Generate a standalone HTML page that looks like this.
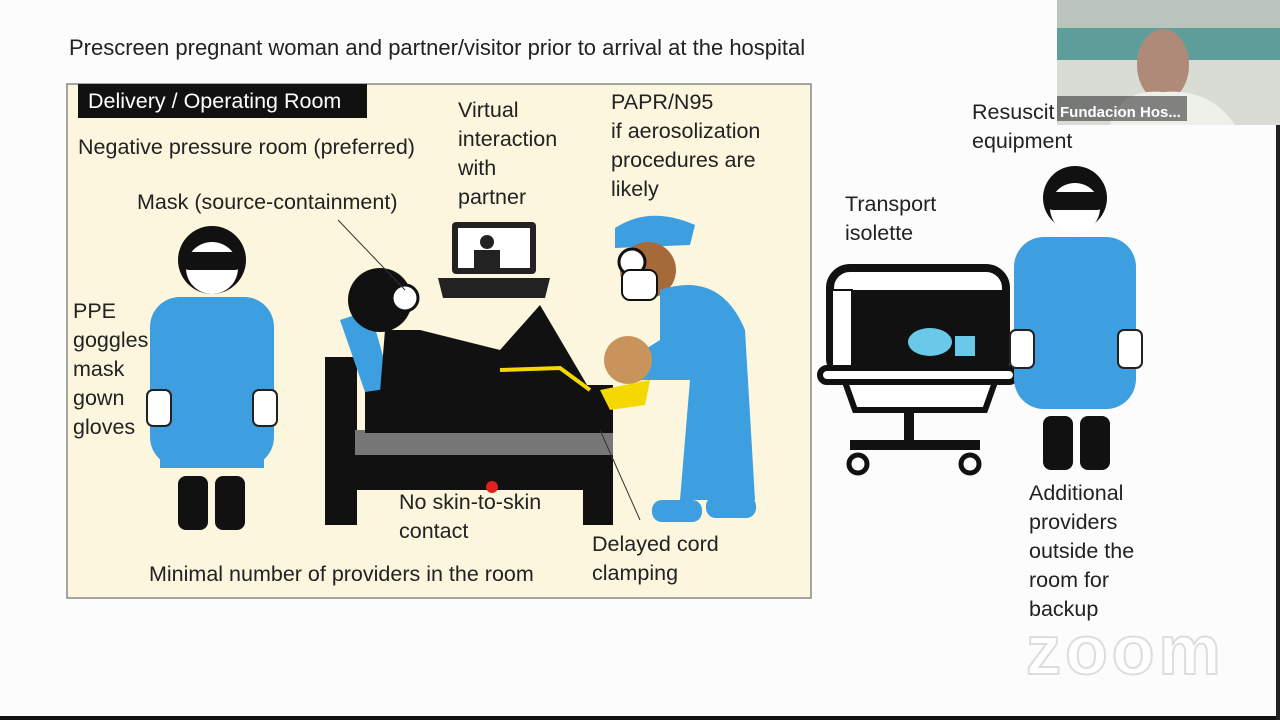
<!DOCTYPE html>
<html><head><meta charset="utf-8"><style>
body{margin:0;width:1280px;height:720px;overflow:hidden;background:#fcfcfc;font-family:"Liberation Sans",sans-serif;position:relative}
.t{position:absolute;font-size:21.5px;color:#222;line-height:29px;white-space:nowrap}
</style></head><body>
<svg width="1280" height="720" style="position:absolute;left:0;top:0">
<rect x="0" y="0" width="1280" height="720" fill="#fcfcfc"/>
<rect x="0" y="716" width="1280" height="4" fill="#111"/>
<rect x="1276" y="120" width="4" height="600" fill="#222"/>
<rect x="67" y="84" width="744" height="514" fill="#fbf6dd" stroke="#888" stroke-width="1.5"/>
<rect x="78" y="84" width="289" height="34" fill="#111"/>
<circle cx="212" cy="260" r="34" fill="#111"/>
<circle cx="212" cy="268" r="26" fill="#fff"/>
<rect x="183" y="252" width="58" height="18" rx="6" fill="#111"/>
<rect x="150" y="297" width="124" height="170" rx="30" fill="#3d9ee0"/>
<rect x="160" y="380" width="104" height="88" fill="#3d9ee0"/>
<rect x="147" y="390" width="24" height="36" rx="6" fill="#fff" stroke="#222" stroke-width="2"/>
<rect x="253" y="390" width="24" height="36" rx="6" fill="#fff" stroke="#222" stroke-width="2"/>
<rect x="178" y="476" width="30" height="54" rx="8" fill="#111"/>
<rect x="215" y="476" width="30" height="54" rx="8" fill="#111"/>
<rect x="325" y="357" width="32" height="168" fill="#111"/>
<rect x="355" y="430" width="258" height="26" fill="#777"/>
<rect x="355" y="455" width="258" height="35" fill="#111"/>
<rect x="583" y="455" width="30" height="70" fill="#111"/>
<rect x="365" y="385" width="248" height="48" fill="#111"/>
<path d="M340 320 L370 310 L392 388 L365 392 Z" fill="#3d9ee0"/>
<circle cx="380" cy="300" r="32" fill="#111"/>
<circle cx="405" cy="298" r="13" fill="#fff" stroke="#111" stroke-width="3"/>
<path d="M385 330 L420 330 L500 350 L540 305 L590 390 L380 392 Z" fill="#111"/>
<path d="M500 370 L560 368 L590 390" stroke="#f5d800" stroke-width="4" fill="none"/>
<line x1="338" y1="220" x2="405" y2="290" stroke="#333" stroke-width="1"/>
<rect x="452" y="222" width="84" height="52" rx="4" fill="#222"/>
<rect x="458" y="228" width="72" height="40" fill="#fff"/>
<circle cx="487" cy="242" r="7" fill="#222"/><rect x="474" y="250" width="26" height="18" fill="#222"/>
<path d="M438 278 L550 278 L545 298 L443 298 Z" fill="#222"/>
<path d="M615 228 Q650 205 695 225 L690 245 L615 248 Z" fill="#3d9ee0"/>
<circle cx="648" cy="270" r="28" fill="#a56a3a"/>
<circle cx="632" cy="262" r="13" fill="#fff" stroke="#111" stroke-width="3"/>
<rect x="622" y="270" width="35" height="30" rx="8" fill="#fff" stroke="#111" stroke-width="2"/>
<path d="M660 290 Q720 270 745 330 L755 500 L680 500 L690 380 L640 380 L620 365 L660 340 Z" fill="#3d9ee0"/>
<rect x="652" y="500" width="50" height="22" rx="10" fill="#3d9ee0"/>
<rect x="706" y="496" width="50" height="22" rx="10" fill="#3d9ee0"/>
<circle cx="628" cy="360" r="24" fill="#c9935c"/>
<path d="M600 390 L650 380 L645 405 L610 410 Z" fill="#f5d800"/>
<line x1="600" y1="430" x2="640" y2="520" stroke="#333" stroke-width="1"/>
<circle cx="492" cy="487" r="6" fill="#e02020"/>
<rect x="830" y="268" width="176" height="110" rx="20" fill="#fff" stroke="#111" stroke-width="8"/>
<rect x="852" y="290" width="154" height="80" fill="#111"/>
<rect x="832" y="290" width="20" height="80" fill="#fff" stroke="#111" stroke-width="2"/>
<ellipse cx="930" cy="342" rx="22" ry="14" fill="#6ac9e8"/>
<rect x="955" y="336" width="20" height="20" fill="#6ac9e8"/>
<rect x="820" y="368" width="196" height="14" rx="7" fill="#fff" stroke="#111" stroke-width="6"/>
<path d="M845 382 L995 382 L985 410 L855 410 Z" fill="#fff" stroke="#111" stroke-width="6"/>
<rect x="904" y="410" width="10" height="36" fill="#111"/>
<rect x="850" y="440" width="130" height="10" fill="#111"/>
<circle cx="858" cy="464" r="9" fill="#fff" stroke="#111" stroke-width="5"/>
<circle cx="970" cy="464" r="9" fill="#fff" stroke="#111" stroke-width="5"/>
<circle cx="1075" cy="198" r="32" fill="#111"/>
<circle cx="1075" cy="208" r="25" fill="#fff"/>
<rect x="1047" y="192" width="56" height="18" rx="6" fill="#111"/>
<rect x="1014" y="237" width="122" height="172" rx="30" fill="#3d9ee0"/>
<rect x="1010" y="330" width="24" height="38" rx="6" fill="#fff" stroke="#222" stroke-width="2"/>
<rect x="1118" y="330" width="24" height="38" rx="6" fill="#fff" stroke="#222" stroke-width="2"/>
<rect x="1043" y="416" width="30" height="54" rx="8" fill="#111"/>
<rect x="1080" y="416" width="30" height="54" rx="8" fill="#111"/>
<rect x="1057" y="0" width="223" height="125" fill="#b9c4bc"/>
<rect x="1057" y="28" width="223" height="32" fill="#5e9e9a"/>
<rect x="1057" y="60" width="223" height="65" fill="#d8dcd4"/>
<ellipse cx="1163" cy="65" rx="26" ry="36" fill="#b08a78"/>
<path d="M1110 125 Q1120 88 1163 92 Q1210 88 1235 125 Z" fill="#eef0ea"/>
<rect x="1057" y="96" width="130" height="25" fill="rgba(40,40,40,0.55)"/>
</svg>
<div class="t" style="left:69px;top:33px;font-size:22px">Prescreen pregnant woman and partner/visitor prior to arrival at the hospital</div>
<div class="t" style="left:88px;top:87px;color:#fff">Delivery / Operating Room</div>
<div class="t" style="left:78px;top:133px">Negative pressure room (preferred)</div>
<div class="t" style="left:137px;top:188px">Mask (source-containment)</div>
<div class="t" style="left:458px;top:96px">Virtual<br>interaction<br>with<br>partner</div>
<div class="t" style="left:611px;top:88px">PAPR/N95<br>if aerosolization<br>procedures are<br>likely</div>
<div class="t" style="left:73px;top:297px">PPE<br>goggles<br>mask<br>gown<br>gloves</div>
<div class="t" style="left:399px;top:488px">No skin-to-skin<br>contact</div>
<div class="t" style="left:592px;top:530px">Delayed cord<br>clamping</div>
<div class="t" style="left:149px;top:560px">Minimal number of providers in the room</div>
<div class="t" style="left:845px;top:190px">Transport<br>isolette</div>
<div class="t" style="left:972px;top:98px">Resuscit<br>equipment</div>
<div class="t" style="left:1029px;top:479px">Additional<br>providers<br>outside the<br>room for<br>backup</div>
<div class="t" style="left:1060px;top:98px;color:#fff;font-size:15px;font-weight:bold">Fundacion Hos...</div>
<div class="t" style="left:1026px;top:612px;font-size:70px;line-height:76px;color:#fff;font-weight:bold;-webkit-text-stroke:2px #ddd;letter-spacing:4px">zoom</div>
</body></html>
